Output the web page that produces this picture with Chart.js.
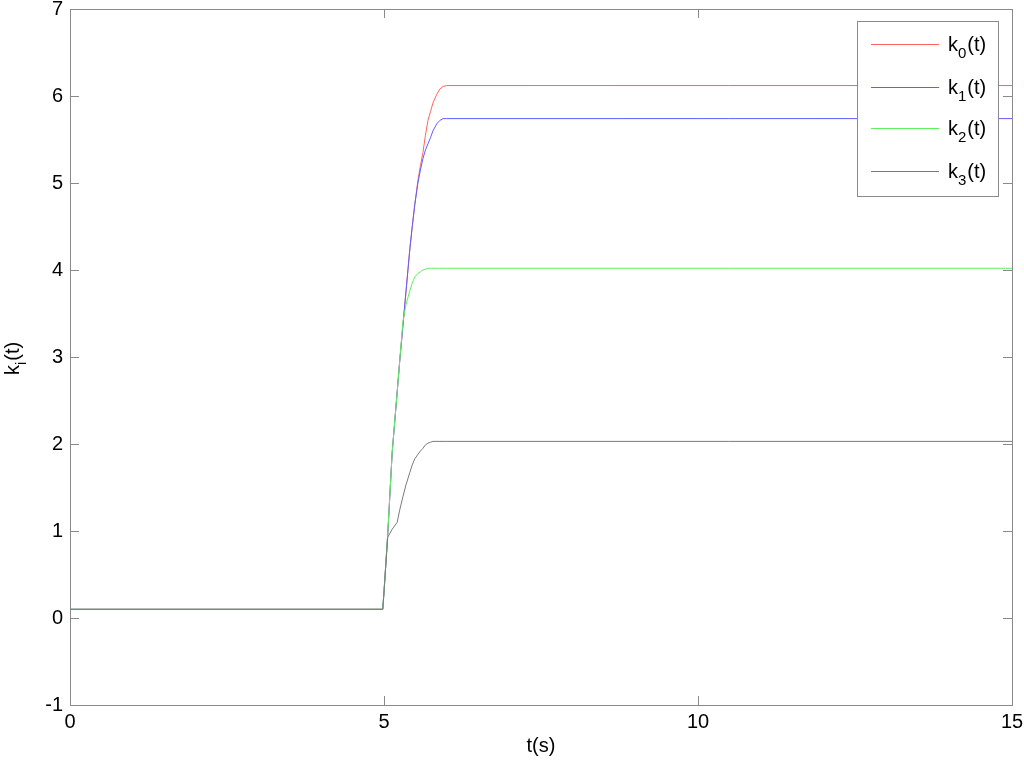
<!DOCTYPE html>
<html>
<head>
<meta charset="utf-8">
<script src="https://cdn.jsdelivr.net/npm/chart.js@4.4.1/dist/chart.umd.min.js"></script>
<style>
  html, body { margin: 0; padding: 0; background: #fff; }
  #wrap { width: 1024px; height: 764px; }
</style>
</head>
<body>
<div id="wrap"><canvas id="kchart" width="1024" height="764"></canvas></div>
<script>
// ── data ──
const times = [0, 4.98, 5.0, 5.06, 5.13, 5.21, 5.25, 5.30, 5.35, 5.41, 5.45, 5.49, 5.54, 5.58,
               5.62, 5.66, 5.70, 5.74, 5.78, 5.84, 5.89, 5.94, 6.0, 15];
const k0 = [0.1, 0.1, 0.3, 0.97, 1.9, 2.6, 2.95, 3.35, 3.75, 4.23, 4.5, 4.75, 5.03, 5.2,
            5.35, 5.55, 5.72, 5.82, 5.92, 6.02, 6.08, 6.11, 6.12, 6.12];
const k1 = [0.1, 0.1, 0.3, 0.97, 1.9, 2.6, 2.95, 3.35, 3.75, 4.23, 4.5, 4.75, 5.0, 5.15,
            5.28, 5.38, 5.45, 5.52, 5.6, 5.68, 5.72, 5.74, 5.74, 5.74];
const k2 = [0.1, 0.1, 0.3, 0.97, 1.9, 2.6, 2.95, 3.4, 3.6, 3.76, 3.85, 3.92, 3.96, 3.98,
            4.0, 4.01, 4.02, 4.02, 4.02, 4.02, 4.02, 4.02, 4.02, 4.02];
const k3 = [0.1, 0.1, 0.3, 0.93, 1.02, 1.1, 1.24, 1.39, 1.53, 1.67, 1.76, 1.83, 1.88, 1.92,
            1.95, 1.99, 2.01, 2.02, 2.03, 2.03, 2.03, 2.03, 2.03, 2.03];

const seriesNames = ['0', '1', '2', '3'];   // subscripts of k_i(t)
const seriesVals = [k0, k1, k2, k3];
const seriesColors = ['#ff6262', '#5e5eff', '#5ef05e', '#7a7a7a'];

const xTicks = [0, 5, 10, 15];
const yTicks = [-1, 0, 1, 2, 3, 4, 5, 6, 7];

const FONT = 'Liberation Sans, Arial, Helvetica, sans-serif';
const AXIS = '#8a8a8a';

// draws k + subscript + (t) starting at x, baseline y
function drawSubLabel(ctx, sub, x, y) {
  ctx.font = '20px ' + FONT;
  ctx.fillText('k', x, y);
  let w = ctx.measureText('k').width;
  ctx.font = '15px ' + FONT;
  ctx.fillText(sub, x + w, y + 7);
  w += ctx.measureText(sub).width + 1;
  ctx.font = '20px ' + FONT;
  ctx.fillText('(t)', x + w, y);
  return w + ctx.measureText('(t)').width;
}

const boxPlugin = {
  id: 'matlabBox',
  afterDatasetsDraw(chart) {
    const { ctx, chartArea: a, scales } = chart;
    ctx.save();
    // legend box
    const lx = 857, ly = 21, lw = 141, lh = 175;
    ctx.fillStyle = '#fff';
    ctx.fillRect(lx, ly, lw, lh);
    ctx.strokeStyle = AXIS;
    ctx.lineWidth = 1;
    ctx.strokeRect(lx + 0.5, ly + 0.5, lw, lh);
    const rows = [44.5, 87.5, 128.5, 171.5];
    seriesNames.forEach((s, i) => {
      ctx.strokeStyle = seriesColors[i];
      ctx.lineWidth = 1;
      ctx.beginPath();
      ctx.moveTo(871, rows[i]);
      ctx.lineTo(939, rows[i]);
      ctx.stroke();
      ctx.fillStyle = '#000';
      ctx.textBaseline = 'alphabetic';
      ctx.textAlign = 'left';
      drawSubLabel(ctx, s, 948, rows[i] + 6);
    });

    // box and inward ticks
    ctx.strokeStyle = AXIS;
    ctx.lineWidth = 1;
    ctx.strokeRect(a.left + 0.5, a.top + 0.5, a.right - a.left, a.bottom - a.top);
    const tl = 9;
    ctx.beginPath();
    xTicks.forEach(v => {
      const px = Math.round(scales.x.getPixelForValue(v)) + 0.5;
      ctx.moveTo(px, a.bottom); ctx.lineTo(px, a.bottom - tl);
      ctx.moveTo(px, a.top); ctx.lineTo(px, a.top + tl);
    });
    yTicks.forEach(v => {
      const py = Math.round(scales.y.getPixelForValue(v)) + 0.5;
      ctx.moveTo(a.left, py); ctx.lineTo(a.left + tl, py);
      ctx.moveTo(a.right, py); ctx.lineTo(a.right - tl, py);
    });
    ctx.stroke();

    // axis titles
    ctx.fillStyle = '#000';
    ctx.font = '20px ' + FONT;
    ctx.textAlign = 'center';
    ctx.textBaseline = 'alphabetic';
    ctx.fillText('t(s)', (a.left + a.right) / 2, 752);
    ctx.translate(19, (a.top + a.bottom) / 2);
    ctx.rotate(-Math.PI / 2);
    ctx.textAlign = 'left';
    drawSubLabel(ctx, 'i', -18, 0);
    ctx.restore();
  }
};

new Chart(document.getElementById('kchart').getContext('2d'), {
  type: 'line',
  data: {
    datasets: seriesVals.map((vals, i) => ({
      label: 'k' + seriesNames[i] + '(t)',
      data: times.map((t, j) => ({ x: t, y: vals[j] })),
      borderColor: seriesColors[i],
      borderWidth: 1,
      pointRadius: 0,
      tension: 0,
      fill: false,
      order: 4 - i,
    })),
  },
  options: {
    responsive: false,
    animation: false,
    layout: { padding: { top: 9, right: 12, left: 0, bottom: 0 } },
    plugins: { legend: { display: false }, tooltip: { enabled: false } },
    scales: {
      x: {
        type: 'linear', min: 0, max: 15,
        afterBuildTicks: s => { s.ticks = xTicks.map(v => ({ value: v })); },
        grid: { display: false, drawTicks: false },
        border: { display: false },
        ticks: { color: '#000', font: { family: FONT, size: 20 }, padding: 5, maxRotation: 0 },
        afterFit: s => { s.height = 59; s.paddingLeft = 0; s.paddingRight = 0; },
      },
      y: {
        type: 'linear', min: -1, max: 7,
        afterBuildTicks: s => { s.ticks = yTicks.map(v => ({ value: v })); },
        grid: { display: false, drawTicks: false },
        border: { display: false },
        ticks: { color: '#000', font: { family: FONT, size: 20 }, padding: 7 },
        afterFit: s => { s.width = 70; s.paddingTop = 0; s.paddingBottom = 0; },
      },
    },
  },
  plugins: [boxPlugin],
});
</script>
</body>
</html>
